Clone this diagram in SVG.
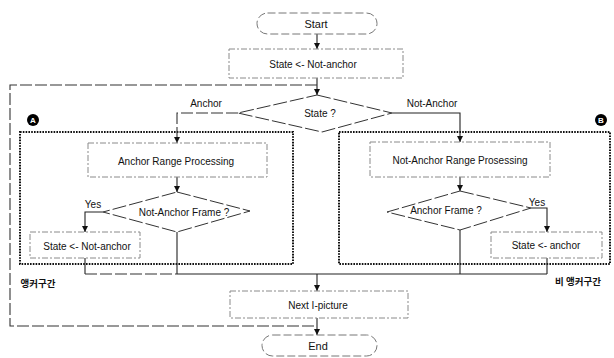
<svg xmlns="http://www.w3.org/2000/svg" width="614" height="358" viewBox="0 0 614 358">
<defs>
<style>
text{font-family:"Liberation Sans",Arial,sans-serif;font-size:10px;fill:#111;text-anchor:middle;dominant-baseline:central}
.box{fill:#fff;stroke:#8a8a8a;stroke-width:1;stroke-dasharray:6 2 2 2}
.term{fill:#fff;stroke:#777;stroke-width:1;stroke-dasharray:8 3}
.dia{fill:#fff;stroke:#333;stroke-width:1;stroke-dasharray:14 3}
.grp{fill:none;stroke:#111;stroke-width:2;stroke-dasharray:1.6 1.2}
.ln{fill:none;stroke:#222;stroke-width:1.1}
.dl{fill:none;stroke:#333;stroke-width:1.1;stroke-dasharray:12 3}
.kr{font-family:"Noto Sans CJK KR",sans-serif;font-weight:bold;font-size:9.5px}
.badge{fill:#000}
.bt{fill:#fff;font-weight:bold;font-size:8px}
</style>
<marker id="ah" viewBox="0 0 6 6" refX="6" refY="3" markerWidth="6" markerHeight="6" markerUnits="userSpaceOnUse" orient="auto"><path d="M0,0 L6,3 L0,6 z" fill="#111"/></marker>
</defs>

<g id="groupA"><rect class="grp" x="20" y="132" width="273" height="132"/><circle class="badge" cx="33" cy="120" r="6"/><text class="bt" x="33" y="120.5">A</text><text class="kr" x="38" y="283">앵커구간</text></g>
<g id="groupB"><rect class="grp" x="339" y="132" width="271" height="132"/><circle class="badge" cx="601" cy="120" r="6"/><text class="bt" x="601" y="120.5">B</text><text class="kr" x="578" y="281">비 앵커구간</text></g>

<g id="connectors">
<line class="ln" x1="317" y1="34" x2="317" y2="49" marker-end="url(#ah)"/>
<line class="ln" x1="317" y1="78" x2="317" y2="95" marker-end="url(#ah)"/>
<polyline class="dl" points="317,85 10,85 10,326 317,326"/>
<polyline class="dl" points="238,113 177,113 177,143" marker-end="url(#ah)"/>
<polyline class="ln" points="392,113 460,113 460,142" marker-end="url(#ah)"/>
<line class="ln" x1="177" y1="177" x2="177" y2="192" marker-end="url(#ah)"/>
<polyline class="ln" points="103,212 85,212 85,232" marker-end="url(#ah)"/>
<line class="ln" x1="460" y1="177" x2="460" y2="191" marker-end="url(#ah)"/>
<polyline class="ln" points="531,208 547,208 547,232" marker-end="url(#ah)"/>
<line class="ln" x1="85" y1="258" x2="85" y2="274"/>
<line class="ln" x1="177" y1="232" x2="177" y2="274"/>
<line class="ln" x1="460" y1="230" x2="460" y2="274"/>
<line class="ln" x1="547" y1="258" x2="547" y2="274"/>
<line class="dl" x1="85" y1="274" x2="177" y2="274"/>
<line class="ln" x1="177" y1="274" x2="547" y2="274"/>
<line class="ln" x1="317" y1="274" x2="317" y2="291" marker-end="url(#ah)"/>
<line class="ln" x1="317" y1="318" x2="317" y2="335" marker-end="url(#ah)"/>
<text x="206" y="103">Anchor</text>
<text x="432" y="103">Not-Anchor</text>
<text x="93" y="204">Yes</text>
<text x="537" y="202">Yes</text>
</g>

<g id="start"><rect class="term" x="257" y="13" width="120" height="21" rx="10.5"/><text x="316" y="23.5" style="font-size:11px">Start</text></g>
<g id="init"><rect class="box" x="229" y="49" width="174" height="29"/><text x="313" y="64">State &lt;- Not-anchor</text></g>
<g id="state"><polygon class="dia" points="317,95 392,113 322,132 238,113"/><text x="320" y="113">State ?</text></g>
<g id="anchorRange"><rect class="box" x="88" y="143" width="179" height="34"/><text x="176" y="161">Anchor Range Processing</text></g>
<g id="notAnchorFrame"><polygon class="dia" points="177,192 250,211 177,232 103,212"/><text x="184" y="212">Not-Anchor Frame ?</text></g>
<g id="setNotAnchor"><rect class="box" x="30" y="232" width="110" height="26"/><text x="87" y="246">State &lt;- Not-anchor</text></g>
<g id="notAnchorRange"><rect class="box" x="370" y="142" width="180" height="35"/><text x="460" y="160">Not-Anchor Range Prosessing</text></g>
<g id="anchorFrame"><polygon class="dia" points="460,191 531,208 460,230 387,212"/><text x="446" y="210">Anchor Frame ?</text></g>
<g id="setAnchor"><rect class="box" x="491" y="232" width="111" height="26"/><text x="546" y="245">State &lt;- anchor</text></g>
<g id="next"><rect class="box" x="230" y="291" width="178" height="27"/><text x="318" y="305">Next I-picture</text></g>
<g id="end"><rect class="term" x="262" y="335" width="115" height="21" rx="10.5"/><text x="318" y="346" style="font-size:11px">End</text></g>
</svg>
